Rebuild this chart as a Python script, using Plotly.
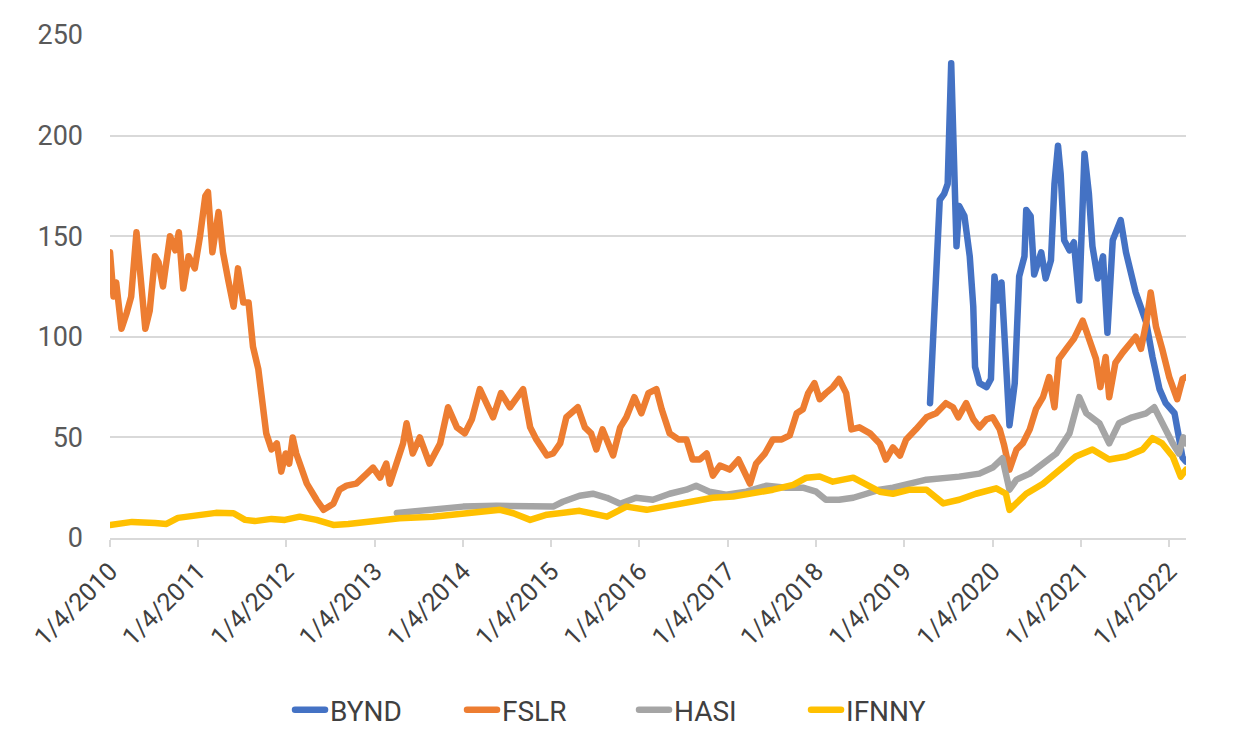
import datetime as dt
import plotly.graph_objects as go

# ---- data (decimal years, values in $) ----
bynd_t = [2019.29, 2019.32, 2019.36, 2019.40, 2019.45, 2019.49, 2019.53, 2019.57, 2019.59, 2019.62,
          2019.68, 2019.74, 2019.78, 2019.80, 2019.85, 2019.93, 2019.98, 2020.02, 2020.06, 2020.10,
          2020.15, 2020.19, 2020.25, 2020.30, 2020.36, 2020.38, 2020.43, 2020.47, 2020.55, 2020.60,
          2020.66, 2020.70, 2020.74, 2020.77, 2020.81, 2020.87, 2020.92, 2020.98, 2021.04, 2021.09,
          2021.13, 2021.19, 2021.25, 2021.30, 2021.36, 2021.45, 2021.51, 2021.57, 2021.62, 2021.70,
          2021.74, 2021.81, 2021.89, 2021.96, 2022.06, 2022.11, 2022.15, 2022.19]
bynd_v = [67, 94, 131, 168, 171, 176, 236, 176, 145, 165,
          160, 140, 115, 85, 77, 75, 79, 130, 118, 127,
          94, 56, 77, 130, 140, 163, 160, 131, 142, 129,
          138, 176, 195, 181, 148, 143, 147, 118, 191, 171,
          145, 129, 140, 102, 148, 158, 142, 131, 122, 112,
          107, 90, 74, 67, 62, 50, 40, 38]

fslr_t = [2010.00, 2010.04, 2010.07, 2010.13, 2010.19, 2010.24, 2010.30, 2010.34, 2010.40, 2010.45,
          2010.51, 2010.55, 2010.60, 2010.68, 2010.74, 2010.78, 2010.83, 2010.89, 2010.96, 2011.02,
          2011.08, 2011.11, 2011.16, 2011.23, 2011.28, 2011.34, 2011.40, 2011.45, 2011.51, 2011.57,
          2011.62, 2011.68, 2011.72, 2011.77, 2011.83, 2011.89, 2011.94, 2011.99, 2012.03, 2012.07,
          2012.11, 2012.15, 2012.23, 2012.34, 2012.42, 2012.53, 2012.60, 2012.68, 2012.79, 2012.91,
          2012.98, 2013.06, 2013.13, 2013.17, 2013.25, 2013.32, 2013.36, 2013.43, 2013.51, 2013.62,
          2013.74, 2013.83, 2013.93, 2014.02, 2014.10, 2014.19, 2014.34, 2014.43, 2014.53, 2014.68,
          2014.76, 2014.83, 2014.95, 2015.02, 2015.10, 2015.17, 2015.30, 2015.38, 2015.45, 2015.51,
          2015.58, 2015.64, 2015.70, 2015.78, 2015.85, 2015.94, 2016.02, 2016.10, 2016.19, 2016.25,
          2016.34, 2016.44, 2016.53, 2016.60, 2016.68, 2016.76, 2016.83, 2016.91, 2017.02, 2017.12,
          2017.19, 2017.25, 2017.32, 2017.42, 2017.51, 2017.61, 2017.70, 2017.78, 2017.85, 2017.91,
          2017.98, 2018.04, 2018.11, 2018.19, 2018.26, 2018.34, 2018.40, 2018.49, 2018.61, 2018.72,
          2018.79, 2018.87, 2018.95, 2019.02, 2019.13, 2019.25, 2019.36, 2019.47, 2019.55, 2019.61,
          2019.70, 2019.78, 2019.85, 2019.93, 2020.00, 2020.08, 2020.13, 2020.19, 2020.27, 2020.34,
          2020.42, 2020.49, 2020.57, 2020.64, 2020.70, 2020.75, 2020.85, 2020.92, 2021.02, 2021.09,
          2021.17, 2021.22, 2021.28, 2021.32, 2021.39, 2021.47, 2021.55, 2021.62, 2021.68, 2021.74,
          2021.79, 2021.85, 2021.92, 2022.00, 2022.09, 2022.15, 2022.19]
fslr_v = [142, 120, 127, 104, 112, 120, 152, 134, 104, 113,
          140, 137, 125, 150, 143, 152, 124, 140, 134, 150,
          170, 172, 142, 162, 142, 128, 115, 134, 117, 117,
          95, 84, 67, 52, 44, 47, 33, 42, 37, 50,
          42, 37, 27, 19, 14, 17, 24, 26, 27, 32,
          35, 30, 37, 27, 37, 47, 57, 42, 50, 37,
          47, 65, 55, 52, 59, 74, 60, 72, 65, 74,
          55, 49, 41, 42, 47, 60, 65, 55, 52, 44,
          54, 47, 41, 55, 60, 70, 62, 72, 74, 64,
          52, 49, 49, 39, 39, 42, 31, 36, 34, 39,
          32, 27, 37, 42, 49, 49, 51, 62, 64, 72,
          77, 69, 72, 75, 79, 72, 54, 55, 52, 47,
          39, 45, 41, 49, 54, 60, 62, 67, 65, 60,
          67, 59, 55, 59, 60, 54, 46, 34, 44, 47,
          54, 64, 70, 80, 65, 89, 95, 99, 108, 99,
          89, 75, 90, 70, 87, 92, 97, 100, 94, 107,
          122, 105, 94, 80, 69, 79, 80]

hasi_t = [2013.25, 2013.62, 2014.00, 2014.38, 2014.76, 2015.02, 2015.13, 2015.32, 2015.47, 2015.63,
          2015.78, 2015.96, 2016.15, 2016.34, 2016.53, 2016.64, 2016.79, 2016.98, 2017.21, 2017.44,
          2017.66, 2017.85, 2018.00, 2018.11, 2018.26, 2018.42, 2018.57, 2018.72, 2018.87, 2019.25,
          2019.62, 2019.85, 2020.00, 2020.11, 2020.19, 2020.27, 2020.42, 2020.57, 2020.72, 2020.87,
          2020.98, 2021.06, 2021.21, 2021.32, 2021.43, 2021.58, 2021.74, 2021.83, 2021.92, 2022.04,
          2022.11, 2022.16, 2022.19]
hasi_v = [12.4, 14, 15.6, 16, 15.6, 15.6, 18, 21, 22, 20,
          17, 20, 19, 22, 24, 26, 23, 21.5, 23, 26,
          25, 25, 23, 19, 19, 20, 22, 24, 25, 29,
          30.5, 32, 35, 39.6, 24, 29, 32, 37, 42, 52,
          70, 62, 57, 47, 57, 60, 62, 65, 57, 47,
          42, 50, 47]

ifnny_t = [2010.00, 2010.25, 2010.51, 2010.64, 2010.77, 2011.02, 2011.20, 2011.40, 2011.53, 2011.64,
           2011.83, 2011.98, 2012.15, 2012.34, 2012.53, 2012.70, 2012.91, 2013.09, 2013.28, 2013.66,
           2014.04, 2014.42, 2014.57, 2014.76, 2014.95, 2015.10, 2015.32, 2015.63, 2015.85, 2016.08,
           2016.30, 2016.60, 2016.83, 2017.06, 2017.29, 2017.51, 2017.74, 2017.89, 2018.04, 2018.19,
           2018.42, 2018.57, 2018.72, 2018.87, 2019.06, 2019.25, 2019.44, 2019.62, 2019.81, 2020.04,
           2020.15, 2020.19, 2020.27, 2020.38, 2020.57, 2020.75, 2020.94, 2021.13, 2021.32, 2021.51,
           2021.70, 2021.81, 2021.92, 2022.04, 2022.13, 2022.19]
ifnny_v = [6.5, 8, 7.5, 7, 10, 11.5, 12.5, 12.3, 9, 8.4,
           9.5, 9, 10.6, 9, 6.5, 7, 8.2, 9, 9.8, 10.6,
           12.3, 14, 12.3, 9, 11.6, 12.3, 13.5, 10.6, 15.6, 14,
           15.6, 18, 20, 20.6, 22, 24, 26.4, 30, 30.6, 28,
           30, 26.4, 23, 22, 24, 24, 17.2, 19, 22, 24.7,
           22, 14, 17.2, 22, 27, 34, 40.5, 44, 39, 40.5,
           44, 49.6, 47, 40.5, 30.5, 34]

tick_years = list(range(2010, 2023))
tick_labels = [f"1/4/{y}" for y in tick_years]

BASE = dt.datetime(2010, 1, 4)


def to_date(t):
    return BASE + dt.timedelta(days=(t - 2010.0) * 365.25)


series = [
    ("BYND", bynd_t, bynd_v, "#4472C4"),
    ("FSLR", fslr_t, fslr_v, "#ED7D31"),
    ("HASI", hasi_t, hasi_v, "#A5A5A5"),
    ("IFNNY", ifnny_t, ifnny_v, "#FFC000"),
]

fig = go.Figure()
for name, ts, vs, color in series:
    fig.add_trace(go.Scatter(
        x=[to_date(t) for t in ts], y=vs, name=name, mode="lines",
        line=dict(color=color, width=6.5),
    ))

font_family = "Roboto, 'Open Sans', sans-serif"
fig.update_layout(
    width=1245, height=756,
    margin=dict(l=110, r=59, t=35, b=218),
    paper_bgcolor="white", plot_bgcolor="white",
    font=dict(family=font_family, color="#595959", size=24),
    showlegend=True,
    legend=dict(orientation="h", x=0.487, y=-0.342, xanchor="center", yanchor="middle",
                font=dict(size=28, color="#404040"), entrywidth=127, entrywidthmode="pixels",
                tracegroupgap=0),
    xaxis=dict(
        type="date",
        range=[to_date(2010.0), to_date(2022.19)],
        tickvals=[dt.datetime(y, 1, 4) for y in tick_years],
        ticktext=tick_labels,
        tickangle=-45,
        showgrid=False, zeroline=False,
        showline=True, linecolor="#d9d9d9", linewidth=1.5,
        ticks="outside", ticklen=7, tickcolor="#d9d9d9", tickwidth=1.5,
        tickfont=dict(size=25, color="#404040"),
    ),
    yaxis=dict(
        range=[0, 250], dtick=50, tick0=0,
        showgrid=True, gridcolor="#d9d9d9", gridwidth=1.5,
        zeroline=False, showline=False, ticks="",
        ticklabelstandoff=26,
        tickfont=dict(size=27, color="#595959"),
    ),
)

fig.write_html(
    "out.html",
    post_script="document.querySelectorAll('.js-line').forEach(function(p){p.style.strokeLinejoin='round';p.style.strokeLinecap='round';});",
)
